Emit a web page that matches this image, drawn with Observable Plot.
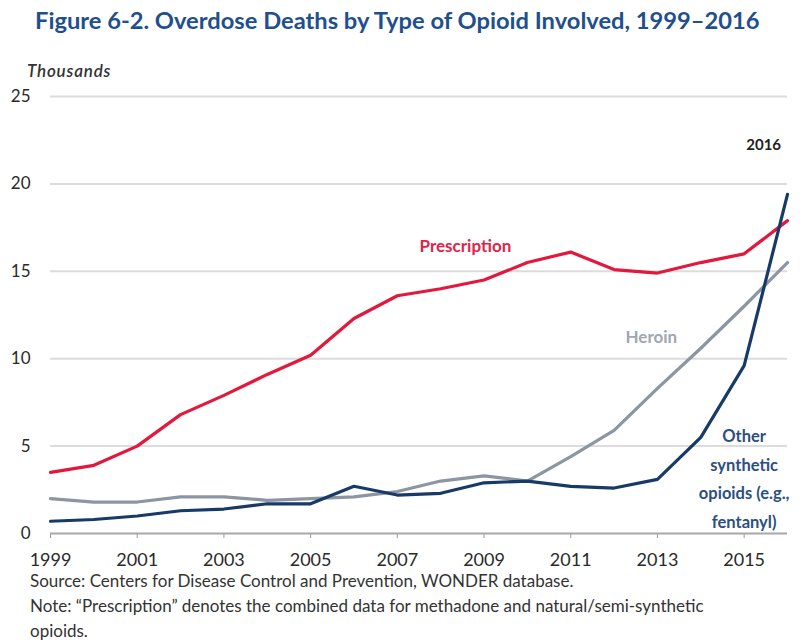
<!DOCTYPE html>
<html>
<head>
<meta charset="utf-8">
<script src="https://cdn.jsdelivr.net/npm/d3@7"></script>
<script src="https://cdn.jsdelivr.net/npm/@observablehq/plot@0.6"></script>
<style>
  html, body { margin: 0; padding: 0; background: #fff; }
  #wrap { position: relative; width: 806px; height: 640px; font-family: Lato, "Open Sans", sans-serif; }
  #title { position: absolute; left: 35px; top: 6px; font-size: 23.7px; font-weight: bold; color: #1f4f8e; white-space: nowrap; z-index: 2; }
  #units { position: absolute; left: 27px; top: 60px; font-size: 17px; letter-spacing: 0.8px; font-style: italic; font-weight: 600; color: #333; z-index: 2; }
  #chart { position: absolute; left: 0; top: 60px; z-index: 1; }
  #notes { position: absolute; left: 30px; top: 568px; font-size: 17px; color: #333; line-height: 25px; z-index: 2; }
</style>
</head>
<body>
<div id="wrap">
  <div id="title">Figure 6-2. Overdose Deaths by Type of Opioid Involved, 1999–2016</div>
  <div id="units">Thousands</div>
  <div id="chart"></div>
  <div id="notes">
    <div>Source: Centers for Disease Control and Prevention, WONDER database.</div>
    <div>Note: “Prescription” denotes the combined data for methadone and natural/semi-synthetic<br>opioids.</div>
  </div>
</div>
<script>
const years = [1999,2000,2001,2002,2003,2004,2005,2006,2007,2008,2009,2010,2011,2012,2013,2014,2015,2016];
const prescription = [3.5,3.9,5.0,6.8,7.9,9.1,10.2,12.3,13.6,14.0,14.5,15.5,16.1,15.1,14.9,15.5,16.0,17.9];
const heroin = [2.0,1.8,1.8,2.1,2.1,1.9,2.0,2.1,2.4,3.0,3.3,3.0,4.4,5.9,8.3,10.6,13.0,15.5];
const synthetic = [0.7,0.8,1.0,1.3,1.4,1.7,1.7,2.7,2.2,2.3,2.9,3.0,2.7,2.6,3.1,5.5,9.6,19.4];
const seriesNames = ["Prescription","Heroin","Synthetic"];
const seriesColors = ["#e2183c","#8c95a2","#173a68"];
const xTicks = [1999,2001,2003,2005,2007,2009,2011,2013,2015];
const yTicks = [0,5,10,15,20,25];

const rows = [];
[prescription, heroin, synthetic].forEach((arr, i) => {
  arr.forEach((v, j) => rows.push({series: seriesNames[i], year: years[j], value: v}));
});

const chart = Plot.plot({
  width: 806,
  height: 510,
  marginTop: 36,
  marginBottom: 37,
  marginLeft: 50,
  marginRight: 19,
  style: {fontFamily: "Lato, 'Open Sans', sans-serif", fontSize: "17px", color: "#2a2a2a", background: "transparent"},
  x: {domain: [1999, 2016]},
  y: {domain: [0, 25]},
  color: {domain: seriesNames, range: seriesColors},
  marks: [
    Plot.ruleY(yTicks.filter(d => d > 0), {stroke: "#dcdcdc", strokeWidth: 2}),
    Plot.axisY({ticks: yTicks, tickSize: 0, tickPadding: 20, label: null, fontSize: 17}),
    Plot.axisX({ticks: xTicks, tickFormat: d => String(d), tickSize: 5, tickPadding: 15, label: null, fontSize: 18, stroke: "#999"}),
    Plot.ruleY([0], {stroke: "#a8a8a8", strokeWidth: 2}),
    Plot.line(rows, {x: "year", y: "value", stroke: "series", strokeWidth: 3.2, strokeLinejoin: "round"}),
    Plot.text(["Prescription"], {x: 2008.57, y: 16.4, text: d => d, fill: "#e0234a", fontWeight: "bold", fontSize: 17}),
    Plot.text(["Heroin"], {x: 2012.86, y: 11.2, text: d => d, fill: "#a0a7b1", fontWeight: "bold", fontSize: 17}),
    Plot.text(["2016"], {x: 2015.45, y: 22.2, text: d => d, fill: "#222", fontWeight: "bold", fontSize: 15}),
    Plot.text(["Other\nsynthetic\nopioids (e.g.,\nfentanyl)"], {x: 2015, y: 3.3, text: d => d, fill: "#2b4f80", fontWeight: "bold", fontSize: 16.5, lineHeight: 1.75})
  ]
});
document.getElementById("chart").appendChild(chart);
</script>
</body>
</html>
